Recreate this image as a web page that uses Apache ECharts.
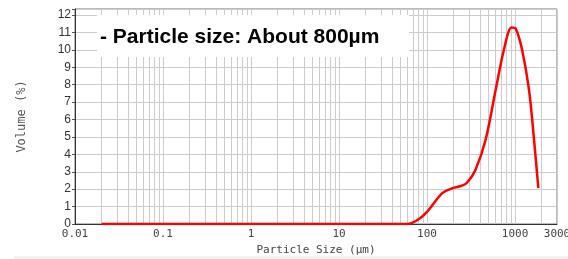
<!DOCTYPE html>
<html style="height: 100%">
<head>
    <meta charset="utf-8">
</head>
<body style="height: 100%; margin: 0; background: #fff">
<div id="container" style="width: 568px; height: 259px"></div>
<script type="text/javascript" src="https://cdn.jsdelivr.net/npm/echarts@6/dist/echarts.min.js"></script>
<script type="text/javascript">
    // particle size (um) and volume (%)
    var sizes = [0.02, 60, 78, 100, 149, 195, 250, 288, 355, 464, 604, 750, 910, 1016, 1200, 1440, 1645, 1840];
    var volumes = [0, 0, 0.23, 0.7, 1.77, 2.06, 2.2, 2.4, 3.1, 4.85, 7.73, 10.04, 11.29, 11.23, 10.04, 7.73, 4.85, 2.06];
    var yTicks = [0, 1, 2, 3, 4, 5, 6, 7, 8, 9, 10, 11, 12];
    var decades = [0.01, 0.1, 1, 10, 100, 1000];
    var note = '- Particle size: About 800\u00b5m';

    var points = sizes.map(function (s, i) { return [s, volumes[i]]; });

    // minor log grid lines 2..9 of each decade (up to 3000)
    var minorLines = [];
    decades.forEach(function (d) {
        for (var k = 2; k <= 9; k++) {
            var v = +(d * k).toPrecision(3);
            if (v < 3000) minorLines.push({xAxis: v});
        }
    });

    var myChart = echarts.init(document.getElementById('container'));

    var option = {
        animation: false,
        grid: {
            left: 75, right: 11, top: 9, bottom: 35,
            outerBoundsMode: 'none',
            show: true, borderColor: '#777', borderWidth: 1
        },
        xAxis: {
            type: 'log',
            logBase: 10,
            min: 0.01,
            max: 3000,
            name: 'Particle Size (\u00b5m)',
            nameLocation: 'middle',
            nameGap: 19,
            nameTextStyle: {fontFamily: 'DejaVu Sans Mono', fontSize: 11, color: '#444'},
            axisLine: {lineStyle: {color: '#333'}},
            axisTick: {show: false},
            axisLabel: {
                fontFamily: 'DejaVu Sans Mono', fontSize: 11, color: '#444', margin: 5,
                formatter: function (v) { return String(+(+v).toPrecision(3)); }
            },
            splitLine: {show: true, lineStyle: {color: '#ccc'}}
        },
        yAxis: {
            type: 'value',
            min: 0,
            max: 12.35,
            interval: 1,
            name: 'Volume (%)',
            nameLocation: 'middle',
            nameGap: 47,
            nameTextStyle: {fontFamily: 'DejaVu Sans Mono', fontSize: 12, color: '#555'},
            axisLine: {show: true, lineStyle: {color: '#333'}},
            axisTick: {show: true, length: 3, lineStyle: {color: '#555'}},
            axisLabel: {
                fontFamily: 'Liberation Sans', fontSize: 12, color: '#333', margin: 4,
                formatter: function (v) { return yTicks.indexOf(v) >= 0 ? String(v) : ''; }
            },
            splitLine: {lineStyle: {color: '#ccc'}}
        },
        graphic: [
            {type: 'rect', z: 100, shape: {x: 97, y: 15, width: 312, height: 42}, style: {fill: '#fff'}},
            {type: 'text', z: 101, x: 100, y: 37, style: {
                text: note, font: 'bold 21px "Liberation Sans"', fill: '#000', verticalAlign: 'middle'
            }},
            {type: 'rect', z: 1, shape: {x: 14, y: 256, width: 554, height: 3}, style: {fill: '#f2f2f2'}}
        ],
        series: [
            {
                type: 'line',
                data: [],
                silent: true,
                markLine: {
                    silent: true,
                    symbol: 'none',
                    label: {show: false},
                    lineStyle: {color: '#ccc', width: 1, type: 'solid'},
                    data: minorLines
                }
            },
            {
                type: 'line',
                data: points,
                smooth: 0.3,
                symbol: 'none',
                lineStyle: {color: '#ff0000', width: 2.5},
                z: 5
            }
        ]
    };

    myChart.setOption(option);
</script>
</body>
</html>
